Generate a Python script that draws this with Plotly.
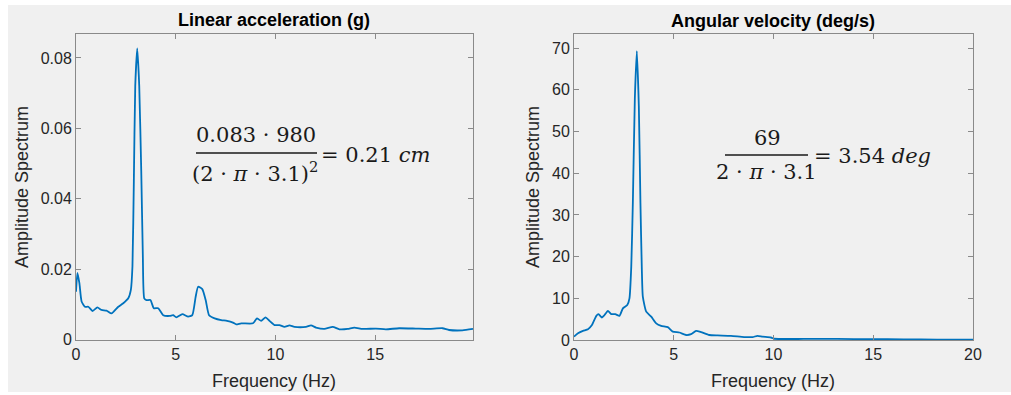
import plotly.graph_objects as go

# ---------------- data ----------------
acc_freq = [0, 0.07, 0.17, 0.28, 0.45, 0.62, 0.83, 1.07, 1.28, 1.53, 1.78, 2.12, 2.37, 2.62, 2.75,
            2.83, 2.9, 2.97, 3.07, 3.17, 3.27, 3.35, 3.42, 3.53, 3.73, 3.9, 4.12, 4.37, 4.7, 4.87,
            5.03, 5.33, 5.62, 5.83, 6.0, 6.12, 6.33, 6.5, 6.67, 6.95, 7.28, 7.57, 7.87, 8.03, 8.28,
            8.87, 9.07, 9.28, 9.5, 9.7, 9.95, 10.2, 10.45, 10.7, 10.95, 11.53, 11.78, 12.03, 12.45,
            12.87, 13.2, 13.62, 13.95, 14.37, 15.03, 15.53, 16.2, 17.03, 17.7, 18.37, 18.7, 19.37, 19.9]
acc_amp = [0.0136, 0.0189, 0.016, 0.0108, 0.0093, 0.0093, 0.0081, 0.0091, 0.0084, 0.0082, 0.0074,
           0.0093, 0.0103, 0.0117, 0.0141, 0.0208, 0.045, 0.072, 0.0827, 0.072, 0.048, 0.024, 0.0117,
           0.0112, 0.0112, 0.0089, 0.0089, 0.0069, 0.0067, 0.0069, 0.0063, 0.0072, 0.0065, 0.0069,
           0.0122, 0.015, 0.0143, 0.0112, 0.0069, 0.006, 0.0055, 0.0053, 0.0048, 0.0043, 0.0046,
           0.0046, 0.006, 0.0053, 0.0063, 0.0053, 0.0041, 0.0041, 0.0036, 0.004, 0.0036, 0.0036,
           0.004, 0.0034, 0.003, 0.0036, 0.0029, 0.003, 0.0034, 0.003, 0.0031, 0.0029, 0.0032,
           0.0031, 0.003, 0.0032, 0.0027, 0.0026, 0.003]

gyro_freq = [0, 0.2, 0.45, 0.7, 0.9, 1.12, 1.23, 1.4, 1.53, 1.7, 1.87, 2.07, 2.28, 2.45, 2.67, 2.78,
             2.87, 2.95, 3.05, 3.15, 3.25, 3.33, 3.4, 3.45, 3.62, 3.87, 4.12, 4.37, 4.7, 4.95, 5.28,
             5.62, 5.87, 6.12, 6.37, 6.78, 7.2, 7.87, 8.53, 8.95, 9.2, 9.45, 9.87, 10.03, 11.53,
             13.2, 14.87, 16.53, 18.2, 20.0]
gyro_amp = [0.8, 1.6, 2.2, 2.6, 3.6, 5.8, 6.2, 5.4, 6.0, 7.0, 6.2, 6.2, 5.8, 7.6, 8.4, 10.0,
            17.6, 33.0, 58.0, 69.3, 56.0, 33.0, 17.0, 10.4, 6.8, 5.6, 4.0, 3.4, 3.1, 2.0, 1.8,
            1.2, 1.4, 2.2, 1.9, 1.2, 1.1, 1.0, 0.7, 0.7, 1.0, 0.8, 0.6, 0.3, 0.25,
            0.25, 0.2, 0.15, 0.1, 0.1]

acc_yticks = [0, 0.02, 0.04, 0.06, 0.08]
acc_yticklabels = ["0", "0.02", "0.04", "0.06", "0.08"]
acc_xticks = [0, 5, 10, 15]
gyro_yticks = [0, 10, 20, 30, 40, 50, 60, 70]
gyro_xticks = [0, 5, 10, 15, 20]

titles = ["Linear acceleration (g)", "Angular velocity (deg/s)"]
xlabel = "Frequency (Hz)"
ylabel = "Amplitude Spectrum"

# ---------------- layout helpers ----------------
W, H = 1011, 395
def px(x):
    return x / W
def py(y):
    return 1 - y / H

LINE = "#0072BD"
AX = "#262626"
TICKFONT = dict(family="Liberation Sans, Arial, sans-serif", size=16, color=AX)

fig = go.Figure()
fig.add_trace(go.Scatter(x=acc_freq, y=acc_amp, mode="lines",
                         line=dict(color=LINE, width=1.8, shape="spline", smoothing=0.5),
                         xaxis="x", yaxis="y", showlegend=False, hoverinfo="skip"))
fig.add_trace(go.Scatter(x=gyro_freq, y=gyro_amp, mode="lines",
                         line=dict(color=LINE, width=1.8, shape="spline", smoothing=0.5),
                         xaxis="x2", yaxis="y2", showlegend=False, hoverinfo="skip"))

axis_common = dict(showline=True, mirror="ticks", linecolor="#8a8a8a", linewidth=1,
                   ticks="inside", ticklen=5, tickcolor="#8a8a8a", showgrid=False,
                   zeroline=False, tickfont=TICKFONT, fixedrange=True, automargin=False)

fig.update_layout(
    width=W, height=H,
    autosize=False,
    margin=dict(l=0, r=0, t=0, b=0, pad=0),
    paper_bgcolor="white",
    plot_bgcolor="white",
    xaxis=dict(domain=[px(76), px(473)], range=[0, 19.9], tickvals=acc_xticks,
               anchor="y", **axis_common),
    yaxis=dict(domain=[py(339.5), py(34)], range=[0, 0.0868], tickvals=acc_yticks,
               ticktext=acc_yticklabels, anchor="x", **axis_common),
    xaxis2=dict(domain=[px(574), px(973)], range=[0, 20], tickvals=gyro_xticks,
                anchor="y2", **axis_common),
    yaxis2=dict(domain=[py(340), py(34)], range=[0, 73.4], tickvals=gyro_yticks,
                anchor="x2", **axis_common),
)

shapes = [
    dict(type="rect", xref="paper", yref="paper", x0=px(8), x1=1, y0=py(392), y1=py(5),
         fillcolor="#f0f0f0", line=dict(width=0), layer="below"),
    # fraction bars
    dict(type="line", xref="paper", yref="paper", x0=px(196), x1=px(317), y0=py(153), y1=py(153),
         line=dict(color="#1a1a1a", width=1.3)),
    dict(type="line", xref="paper", yref="paper", x0=px(725), x1=px(808), y0=py(155), y1=py(155),
         line=dict(color="#1a1a1a", width=1.3)),
]
fig.update_layout(shapes=shapes)

TF = dict(family="Liberation Sans, Arial, sans-serif", size=18, color="#000000")
LF = dict(family="Liberation Sans, Arial, sans-serif", size=18, color=AX)
MF = dict(family="DejaVu Serif, serif", size=21, color="#1a1a1a")

ann = []
def add(x, y, text, font, xanchor="center", angle=0):
    ann.append(dict(x=px(x), y=py(y), xref="paper", yref="paper", text=text, showarrow=False,
                    font=font, xanchor=xanchor, yanchor="middle", textangle=angle))

add(274, 20, "<b>" + titles[0] + "</b>", TF)
add(773, 21, "<b>" + titles[1] + "</b>", TF)
add(274, 381, xlabel, LF)
add(773, 381, xlabel, LF)
add(22, 187, ylabel, LF, angle=-90)
add(533, 187, ylabel, LF, angle=-90)

# equations
add(256, 135, "0.083 · 980", MF)
add(255, 172, "(2 · <i>π</i> · 3.1)<sup>2</sup>", MF)
add(319, 155, "= 0.21 <i>cm</i>", MF, xanchor="left")
add(767, 138, "69", MF)
add(766, 172, "2 · <i>π</i> · 3.1", MF)
add(812, 156, "= 3.54 <i>deg</i>", MF, xanchor="left")
fig.update_layout(annotations=ann)

fig.write_html("out.html",
               config={"displayModeBar": False, "staticPlot": True},
               post_script="document.body.style.margin='0';document.body.style.overflow='hidden';")
